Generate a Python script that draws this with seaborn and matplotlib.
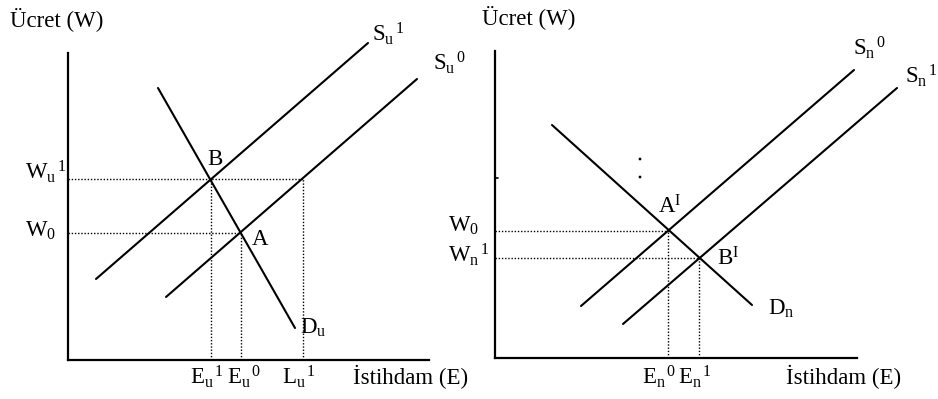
import matplotlib
matplotlib.use("Agg")
import matplotlib.pyplot as plt
import seaborn as sns
import pandas as pd

# ---------------- data (economic units) ----------------
# Left panel: union sector
su1_x = [2.8, 30.0]; su1_y = [8.1, 31.7]        # S_u^1
su0_x = [9.8, 34.9]; su0_y = [6.3, 28.1]        # S_u^0
du_x = [9.0, 22.7];  du_y = [27.2, 3.2]         # D_u
wu1 = 18.1; w0_left = 12.7
eu1 = 14.3; eu0 = 17.3; lu1 = 23.5

# Right panel: non-union sector
sn0_x = [8.6, 35.9];  sn0_y = [5.2, 28.8]       # S_n^0
sn1_x = [12.8, 40.2]; sn1_y = [3.4, 27.0]       # S_n^1
dn_x = [5.7, 25.7];   dn_y = [23.3, 5.3]        # D_n
w0_right = 12.7; wn1 = 10.0
en0 = 17.3; en1 = 20.4
dots_x = [14.5, 14.5]; dots_y = [19.9, 18.1]

y_label = "Ücret (W)"
x_label = "İstihdam (E)"

# ---------------- style ----------------
sns.set_style("white")
plt.rcParams["font.family"] = ["Liberation Serif", "DejaVu Serif"]
plt.rcParams["mathtext.fontset"] = "custom"
plt.rcParams["mathtext.rm"] = "Liberation Serif"
plt.rcParams["mathtext.it"] = "Liberation Serif:italic"
plt.rcParams["mathtext.bf"] = "Liberation Serif:bold"
FS = 16.5

W, H = 938, 399
fig = plt.figure(figsize=(W / 100, H / 100), dpi=100)
fig.patch.set_facecolor("white")


def make_axes(left_px, bottom_px, w_px, h_px):
    ax = fig.add_axes([left_px / W, (H - bottom_px) / H, w_px / W, h_px / H])
    ax.set_xlim(0, w_px / 10)
    ax.set_ylim(0, h_px / 10)
    for s in ["top", "right"]:
        ax.spines[s].set_visible(False)
    for s in ["left", "bottom"]:
        ax.spines[s].set_linewidth(1.6)
        ax.spines[s].set_color("black")
    ax.set_xticks([]); ax.set_yticks([])
    ax.set_facecolor("none")
    return ax


def solid(ax, xs, ys):
    sns.lineplot(x=xs, y=ys, ax=ax, color="black", lw=1.5, sort=False,
                 estimator=None, clip_on=False)


def dotted(ax, xs, ys):
    ax.plot(xs, ys, color="black", lw=1.0, ls=(0, (1, 1.3)), clip_on=False)


def txt(ax, x, y, s, **kw):
    ax.text(x, y, s, fontsize=FS, color="black", ha="left", va="baseline",
            clip_on=False, **kw)


# ---------------- left panel ----------------
axL = make_axes(68, 360, 361, 307)
dotted(axL, [0, lu1], [wu1, wu1])
dotted(axL, [0, eu0], [w0_left, w0_left])
dotted(axL, [eu1, eu1], [0, wu1])
dotted(axL, [eu0, eu0], [0, w0_left])
dotted(axL, [lu1, lu1], [0, wu1])
solid(axL, su1_x, su1_y)
solid(axL, su0_x, su0_y)
solid(axL, du_x, du_y)

txt(axL, -5.8, 33.4, y_label)
txt(axL, 30.4, 31.9, r"$\mathrm{S_u{}^{\,1}}$")
txt(axL, 36.5, 29.0, r"$\mathrm{S_u{}^{\,0}}$")
txt(axL, 13.9, 19.5, "B")
txt(axL, 18.4, 11.5, "A")
txt(axL, 23.2, 2.6, r"$\mathrm{D_u}$")
txt(axL, -4.3, 18.1, r"$\mathrm{W_u{}^{\,1}}$")
txt(axL, -4.3, 12.3, r"$\mathrm{W_0}$")
txt(axL, 12.2, -2.4, r"$\mathrm{E_u{}^{\,1}}$")
txt(axL, 15.9, -2.4, r"$\mathrm{E_u{}^{\,0}}$")
txt(axL, 21.4, -2.4, r"$\mathrm{L_u{}^{\,1}}$")
txt(axL, 28.5, -2.4, x_label)

# ---------------- right panel ----------------
axR = make_axes(495, 358, 362, 307)
dotted(axR, [0, en0], [w0_right, w0_right])
dotted(axR, [0, en1], [wn1, wn1])
dotted(axR, [en0, en0], [0, w0_right])
dotted(axR, [en1, en1], [0, wn1])
solid(axR, sn0_x, sn0_y)
solid(axR, sn1_x, sn1_y)
solid(axR, dn_x, dn_y)
sns.scatterplot(x=dots_x, y=dots_y, ax=axR, color="black", s=4,
                edgecolor="none", clip_on=False)
axR.plot([0, 0.25], [18.0, 18.0], color="black", lw=1.2)

txt(axR, -1.3, 33.4, y_label)
txt(axR, 35.8, 30.3, r"$\mathrm{S_n{}^{\,0}}$")
txt(axR, 41.0, 27.5, r"$\mathrm{S_n{}^{\,1}}$")
txt(axR, 16.3, 14.5, r"$\mathrm{A^{I}}$")
txt(axR, 22.2, 9.3, r"$\mathrm{B^{I}}$")
txt(axR, 27.3, 4.3, r"$\mathrm{D_n}$")
txt(axR, -4.7, 12.6, r"$\mathrm{W_0}$")
txt(axR, -4.7, 9.6, r"$\mathrm{W_n{}^{\,1}}$")
txt(axR, 14.7, -2.6, r"$\mathrm{E_n{}^{\,0}}$")
txt(axR, 18.3, -2.6, r"$\mathrm{E_n{}^{\,1}}$")
txt(axR, 29.1, -2.6, x_label)

fig.savefig("out.png", dpi=100, facecolor="white")
